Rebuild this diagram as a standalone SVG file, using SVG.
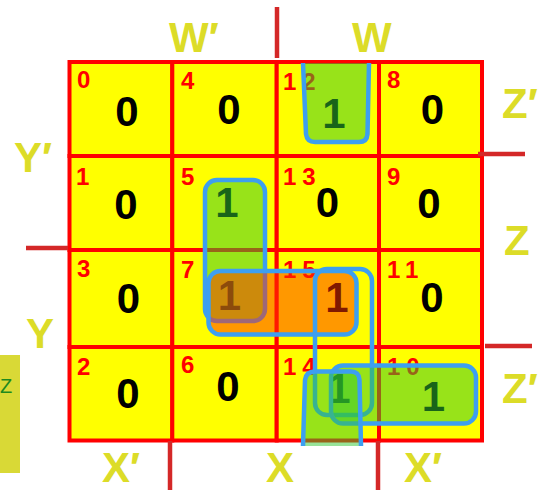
<svg xmlns="http://www.w3.org/2000/svg" width="550" height="490" viewBox="0 0 550 490">
<style>
.cell rect{fill:#ffff00;stroke:#ff0000;stroke-width:4}
.idx{font-family:"Liberation Sans",Arial,sans-serif;font-weight:bold;font-size:24px;fill:#ff0000}
.two{letter-spacing:6px}
.val{font-family:"Liberation Sans",Arial,sans-serif;font-weight:bold;font-size:42px;fill:#000;text-anchor:middle}
.axis{font-family:"Liberation Sans",Arial,sans-serif;font-weight:bold;font-size:42px;fill:#dcdc28}
.loop{stroke:#3d9ff0;stroke-width:4.5}
.gr{fill:rgb(50,200,50);fill-opacity:0.5}
.or{fill:rgb(255,50,0);fill-opacity:0.5}
.none{fill:none}
.tick{stroke:#d42828;stroke-width:4.5;fill:none}
</style>
<rect width="550" height="490" fill="#ffffff"/>
<!-- side strip -->
<g id="strip">
<rect x="-1" y="355" width="21" height="118" fill="#d9d936"/>
<text x="0" y="393" font-family="Liberation Sans, Arial, sans-serif" font-size="20" fill="#1e8a1e">Z</text>
</g>
<!-- cells -->
<g id="c0" class="cell"><rect x="69.5" y="62" width="102.8" height="94"/><text class="idx" x="77" y="88">0</text><text class="val" x="127" y="126">0</text></g>
<g id="c4" class="cell"><rect x="172.3" y="62" width="104.4" height="94"/><text class="idx" x="181" y="89">4</text><text class="val" x="229" y="124">0</text></g>
<g id="c12" class="cell"><rect x="276.7" y="62" width="102.3" height="94"/><text class="idx two" x="283" y="90">12</text><text class="val" x="334" y="128">1</text></g>
<g id="c8" class="cell"><rect x="379" y="62" width="103" height="94"/><text class="idx" x="387" y="88">8</text><text class="val" x="432.5" y="124">0</text></g>
<g id="c1" class="cell"><rect x="69.5" y="156" width="102.8" height="94"/><text class="idx" x="76" y="185">1</text><text class="val" x="126" y="219">0</text></g>
<g id="c5" class="cell"><rect x="172.3" y="156" width="104.4" height="94"/><text class="idx" x="181" y="185">5</text><text class="val" x="227" y="217">1</text></g>
<g id="c13" class="cell"><rect x="276.7" y="156" width="102.3" height="94"/><text class="idx two" x="283" y="185">13</text><text class="val" x="327.5" y="217">0</text></g>
<g id="c9" class="cell"><rect x="379" y="156" width="103" height="94"/><text class="idx" x="387" y="185">9</text><text class="val" x="429" y="218">0</text></g>
<g id="c3" class="cell"><rect x="69.5" y="250" width="102.8" height="97"/><text class="idx" x="77" y="277">3</text><text class="val" x="128.5" y="313">0</text></g>
<g id="c7" class="cell"><rect x="172.3" y="250" width="104.4" height="97"/><text class="idx" x="181" y="278">7</text><text class="val" x="229.5" y="310">1</text></g>
<g id="c15" class="cell"><rect x="276.7" y="250" width="102.3" height="97"/><text class="idx two" x="283" y="278">15</text><text class="val" x="337" y="312">1</text></g>
<g id="c11" class="cell"><rect x="379" y="250" width="103" height="97"/><text class="idx two" x="387" y="278">11</text><text class="val" x="432" y="312">0</text></g>
<g id="c2" class="cell"><rect x="69.5" y="347" width="102.8" height="93.5"/><text class="idx" x="77" y="375">2</text><text class="val" x="128" y="408">0</text></g>
<g id="c6" class="cell"><rect x="172.3" y="347" width="104.4" height="93.5"/><text class="idx" x="181" y="373">6</text><text class="val" x="228" y="401">0</text></g>
<g id="c14" class="cell"><rect x="276.7" y="347" width="102.3" height="93.5"/><text class="idx two" x="283" y="375">14</text><text class="val" x="339" y="403">1</text></g>
<g id="c10" class="cell"><rect x="379" y="347" width="103" height="93.5"/><text class="idx two" x="387" y="375">10</text><text class="val" x="433.5" y="411">1</text></g>
<!-- groupings -->
<g id="loops">
<path class="loop gr" d="M303,63 L306,134 Q307,142 315,142 L359,142 Q367,142 367.5,134 L369,63"/>
<rect class="loop gr" x="205" y="180" width="60" height="141" rx="12"/>
<rect class="loop or" x="208.5" y="271" width="148" height="63.5" rx="12"/>
<rect class="loop none" x="315" y="269" width="57" height="146" rx="12"/>
<rect class="loop gr" x="331" y="365.5" width="145" height="58" rx="12"/>
<path class="loop gr" d="M303,446 L305,380 Q306,371.5 315,371.5 L351,371.5 Q359,371.5 359.5,380 L361,446"/>
</g>
<!-- ticks -->
<g id="ticks">
<line class="tick" x1="277" y1="7" x2="277" y2="58"/>
<line class="tick" x1="478" y1="154" x2="525" y2="154"/>
<line class="tick" x1="26" y1="248" x2="68" y2="248"/>
<line class="tick" x1="485" y1="346" x2="532" y2="346"/>
<line class="tick" x1="170" y1="441" x2="170" y2="490"/>
<line class="tick" x1="378" y1="441" x2="378" y2="490"/>
</g>
<!-- axis labels -->
<g id="labels">
<text class="axis" x="169" y="52">W′</text>
<text class="axis" x="352" y="52">W</text>
<text class="axis" x="14" y="172">Y′</text>
<text class="axis" x="502" y="118">Z′</text>
<text class="axis" x="504" y="255">Z</text>
<text class="axis" x="26" y="348">Y</text>
<text class="axis" x="502" y="403">Z′</text>
<text class="axis" x="102" y="482">X′</text>
<text class="axis" x="266" y="482">X</text>
<text class="axis" x="404" y="482">X′</text>
</g>
</svg>
